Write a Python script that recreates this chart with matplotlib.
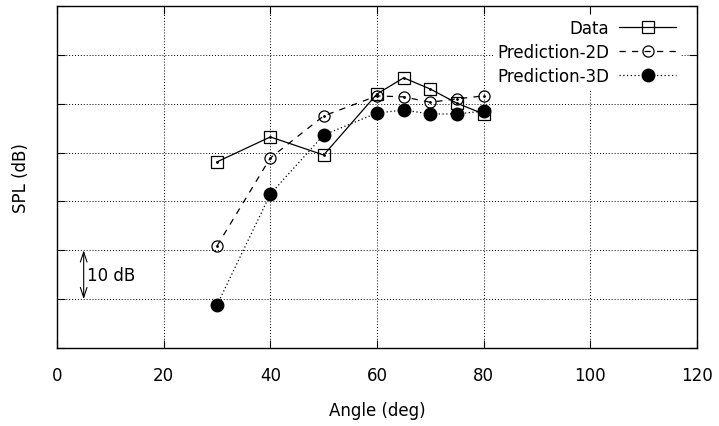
import matplotlib
matplotlib.use('Agg')
import matplotlib.pyplot as plt

# values (y in dB, arbitrary offset)
angles = [30, 40, 50, 60, 65, 70, 75, 80]
spl_data = [38.1, 43.2, 39.5, 52.0, 55.3, 53.0, 50.1, 47.9]
spl_pred_2d = [20.9, 38.9, 47.5, 51.6, 51.4, 50.3, 51.0, 51.6]
spl_pred_3d = [8.8, 31.5, 43.6, 48.1, 48.7, 47.9, 47.9, 48.5]

x_ticks = [0, 20, 40, 60, 80, 100, 120]
y_ticks = [0, 10, 20, 30, 40, 50, 60, 70]

plt.rcParams['font.family'] = 'DejaVu Sans'
plt.rcParams['font.size'] = 12

fig = plt.figure(figsize=(7.19, 4.27), dpi=100)
ax = fig.add_axes([0.0793, 0.1827, 0.8901, 0.8009])

ax.plot(angles, spl_data, color='black', lw=0.9, ls='-', marker='s', ms=8,
        mfc='none', mec='black', mew=0.9, label='Data')
ax.plot(angles, spl_pred_2d, color='black', lw=0.9, ls=(0, (5, 5)), marker='o', ms=8,
        mfc='none', mec='black', mew=0.9, label='Prediction-2D')
ax.plot(angles, spl_pred_3d, color='black', lw=0.9, ls=(0, (1, 2)), marker='o', ms=9,
        mfc='black', mec='black', label='Prediction-3D')
# gnuplot-style centre dots inside the open markers
ax.plot(angles, spl_data, ls='none', marker='.', ms=2, color='black')
ax.plot(angles, spl_pred_2d, ls='none', marker='.', ms=2, color='black')

ax.set_xlim(0, 120)
ax.set_ylim(0, 70)
ax.set_xticks(x_ticks)
ax.set_yticks(y_ticks)
ax.set_yticklabels([])
ax.grid(True, color='black', ls=(0, (1, 2)), lw=0.7)
ax.tick_params(direction='in', length=6, width=0.8, top=True, right=True)
ax.tick_params(axis='x', pad=13)
for s in ax.spines.values():
    s.set_linewidth(1.0)

ax.set_xlabel('Angle (deg)', labelpad=12)
ax.set_ylabel('SPL (dB)', labelpad=16)

# 10 dB scale bar
ax.annotate('', xy=(5, 20), xytext=(5, 10),
            arrowprops=dict(arrowstyle='<->,head_length=0.6,head_width=0.2',
                            color='black', lw=0.8, shrinkA=0, shrinkB=0))
ax.text(5.6, 15, '10 dB', ha='left', va='center')

leg = ax.legend(loc='upper right', bbox_to_anchor=(0.984, 0.994),
                markerfirst=False, handlelength=3.4,
                handletextpad=0.6, labelspacing=0.35, frameon=True,
                fancybox=False, framealpha=1, edgecolor='none',
                borderaxespad=0.4, borderpad=0.25)

fig.savefig('out.png', dpi=100)
